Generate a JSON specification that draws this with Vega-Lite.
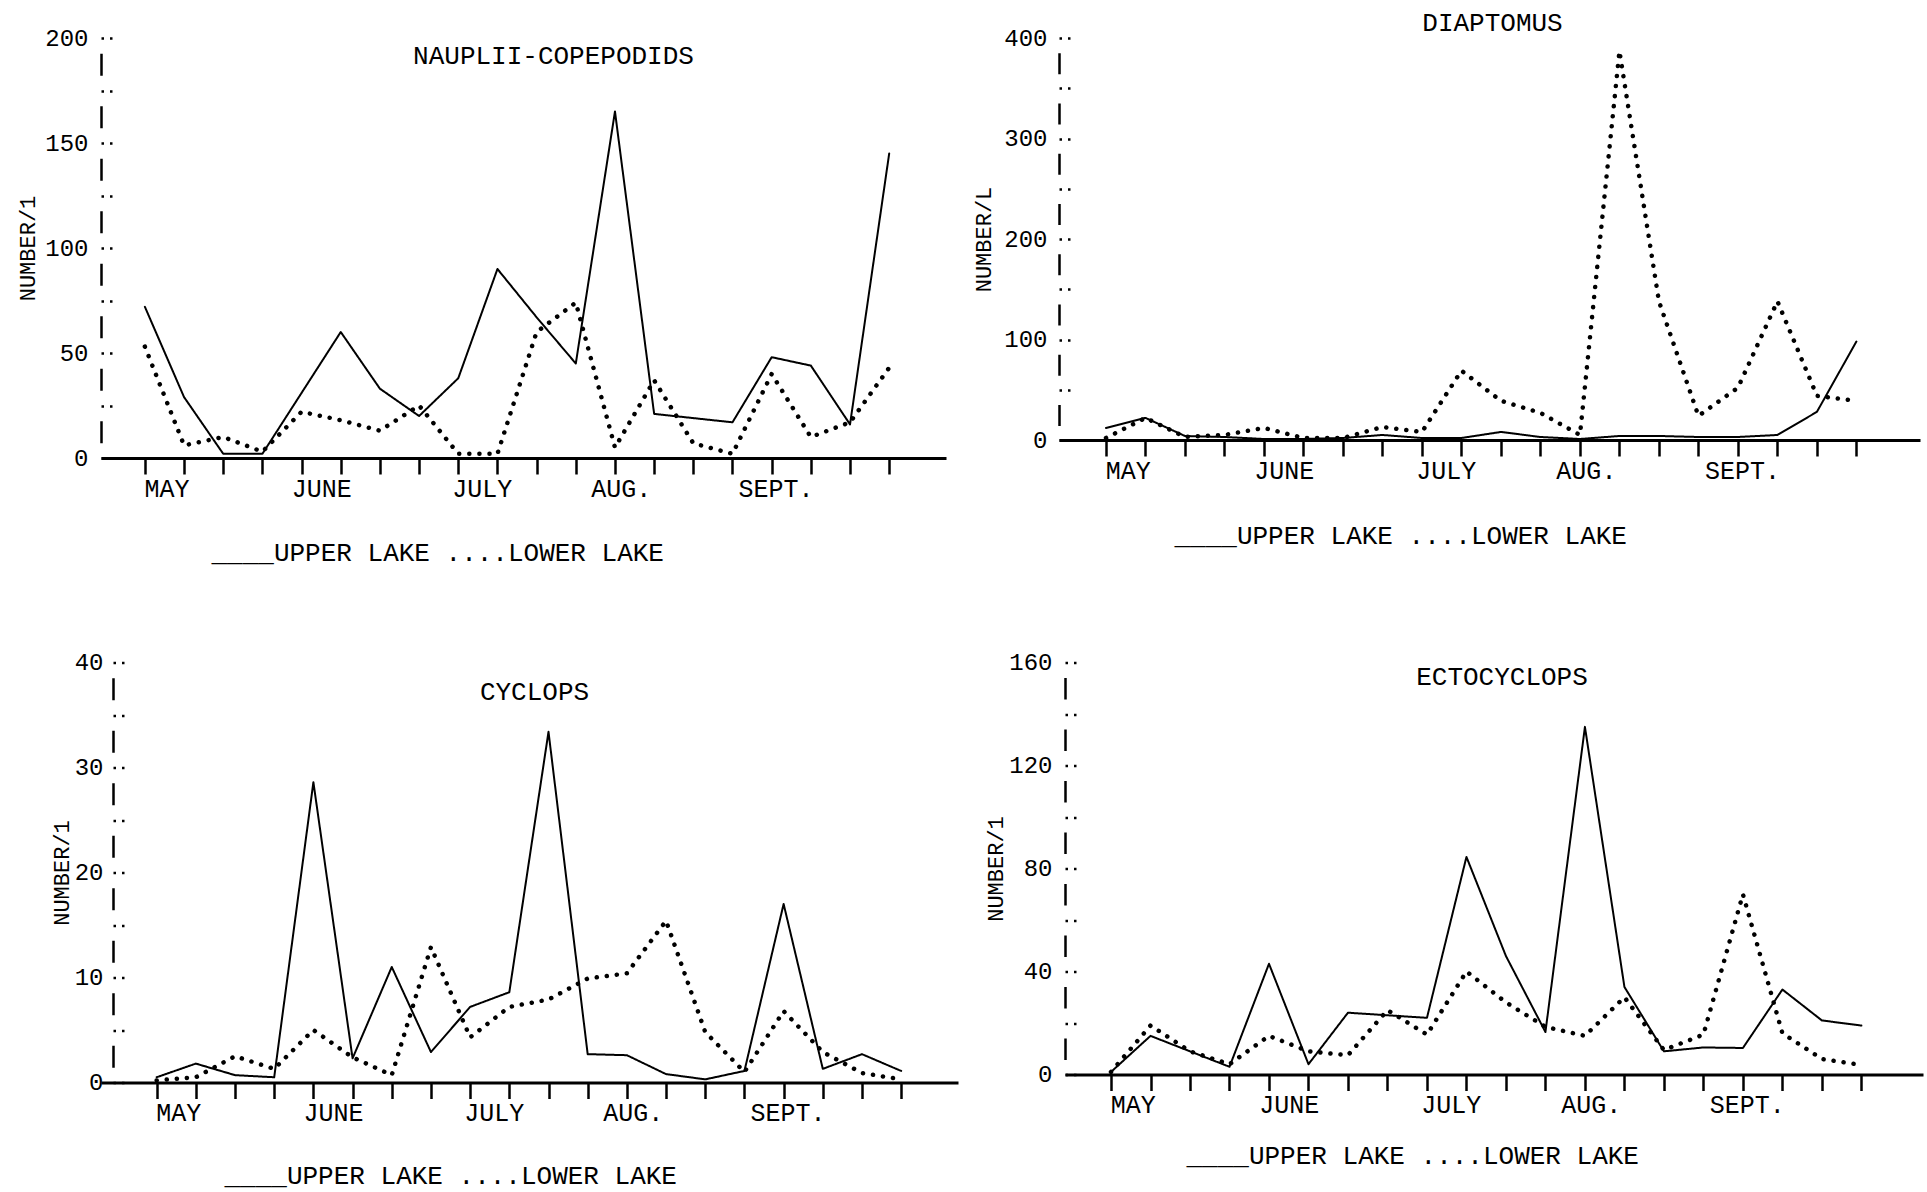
{
  "$schema": "https://vega.github.io/schema/vega-lite/v6.json",
  "background": "white",
  "padding": {"left": 16, "top": 9, "right": 2, "bottom": 2},
  "bounds": "flush",
  "spacing": 624.5,
  "config": {
    "view": {"stroke": null},
    "font": "Liberation Mono",
    "axis": {"labelFont": "Liberation Mono", "titleFont": "Liberation Mono", "labelColor": "black", "titleColor": "black", "domainColor": "black", "tickColor": "black", "grid": false, "titleFontWeight": "normal"},
    "title": {"font": "Liberation Mono", "fontWeight": "normal", "fontSize": 26, "color": "black", "anchor": "middle", "frame": "group"}
  },
  "datasets": {
    "nauplii": [
      {"week": 0, "lake": "UPPER LAKE", "value": 72}, {"week": 1, "lake": "UPPER LAKE", "value": 29}, {"week": 2, "lake": "UPPER LAKE", "value": 2}, {"week": 3, "lake": "UPPER LAKE", "value": 2}, {"week": 4, "lake": "UPPER LAKE", "value": 31}, {"week": 5, "lake": "UPPER LAKE", "value": 60}, {"week": 6, "lake": "UPPER LAKE", "value": 33}, {"week": 7, "lake": "UPPER LAKE", "value": 20}, {"week": 8, "lake": "UPPER LAKE", "value": 38}, {"week": 9, "lake": "UPPER LAKE", "value": 90}, {"week": 10, "lake": "UPPER LAKE", "value": 67}, {"week": 11, "lake": "UPPER LAKE", "value": 45}, {"week": 12, "lake": "UPPER LAKE", "value": 165}, {"week": 13, "lake": "UPPER LAKE", "value": 21}, {"week": 14, "lake": "UPPER LAKE", "value": 19}, {"week": 15, "lake": "UPPER LAKE", "value": 17}, {"week": 16, "lake": "UPPER LAKE", "value": 48}, {"week": 17, "lake": "UPPER LAKE", "value": 44}, {"week": 18, "lake": "UPPER LAKE", "value": 16}, {"week": 19, "lake": "UPPER LAKE", "value": 145},
      {"week": 0, "lake": "LOWER LAKE", "value": 53}, {"week": 1, "lake": "LOWER LAKE", "value": 6}, {"week": 2, "lake": "LOWER LAKE", "value": 10}, {"week": 3, "lake": "LOWER LAKE", "value": 3}, {"week": 4, "lake": "LOWER LAKE", "value": 22}, {"week": 5, "lake": "LOWER LAKE", "value": 18}, {"week": 6, "lake": "LOWER LAKE", "value": 13}, {"week": 7, "lake": "LOWER LAKE", "value": 25}, {"week": 8, "lake": "LOWER LAKE", "value": 2}, {"week": 9, "lake": "LOWER LAKE", "value": 2}, {"week": 10, "lake": "LOWER LAKE", "value": 60}, {"week": 11, "lake": "LOWER LAKE", "value": 74}, {"week": 12, "lake": "LOWER LAKE", "value": 5}, {"week": 13, "lake": "LOWER LAKE", "value": 37}, {"week": 14, "lake": "LOWER LAKE", "value": 7}, {"week": 15, "lake": "LOWER LAKE", "value": 2}, {"week": 16, "lake": "LOWER LAKE", "value": 40}, {"week": 17, "lake": "LOWER LAKE", "value": 10}, {"week": 18, "lake": "LOWER LAKE", "value": 17}, {"week": 19, "lake": "LOWER LAKE", "value": 43}
    ],
    "diaptomus": [
      {"week": 0, "lake": "UPPER LAKE", "value": 12}, {"week": 1, "lake": "UPPER LAKE", "value": 22}, {"week": 2, "lake": "UPPER LAKE", "value": 4}, {"week": 3, "lake": "UPPER LAKE", "value": 3}, {"week": 4, "lake": "UPPER LAKE", "value": 1}, {"week": 5, "lake": "UPPER LAKE", "value": 1}, {"week": 6, "lake": "UPPER LAKE", "value": 2}, {"week": 7, "lake": "UPPER LAKE", "value": 5}, {"week": 8, "lake": "UPPER LAKE", "value": 2}, {"week": 9, "lake": "UPPER LAKE", "value": 2}, {"week": 10, "lake": "UPPER LAKE", "value": 8}, {"week": 11, "lake": "UPPER LAKE", "value": 3}, {"week": 12, "lake": "UPPER LAKE", "value": 1}, {"week": 13, "lake": "UPPER LAKE", "value": 4}, {"week": 14, "lake": "UPPER LAKE", "value": 4}, {"week": 15, "lake": "UPPER LAKE", "value": 3}, {"week": 16, "lake": "UPPER LAKE", "value": 3}, {"week": 17, "lake": "UPPER LAKE", "value": 5}, {"week": 18, "lake": "UPPER LAKE", "value": 28}, {"week": 19, "lake": "UPPER LAKE", "value": 98},
      {"week": 0, "lake": "LOWER LAKE", "value": 2}, {"week": 1, "lake": "LOWER LAKE", "value": 22}, {"week": 2, "lake": "LOWER LAKE", "value": 3}, {"week": 3, "lake": "LOWER LAKE", "value": 5}, {"week": 4, "lake": "LOWER LAKE", "value": 12}, {"week": 5, "lake": "LOWER LAKE", "value": 2}, {"week": 6, "lake": "LOWER LAKE", "value": 2}, {"week": 7, "lake": "LOWER LAKE", "value": 13}, {"week": 8, "lake": "LOWER LAKE", "value": 8}, {"week": 9, "lake": "LOWER LAKE", "value": 69}, {"week": 10, "lake": "LOWER LAKE", "value": 39}, {"week": 11, "lake": "LOWER LAKE", "value": 27}, {"week": 12, "lake": "LOWER LAKE", "value": 5}, {"week": 13, "lake": "LOWER LAKE", "value": 387}, {"week": 14, "lake": "LOWER LAKE", "value": 138}, {"week": 15, "lake": "LOWER LAKE", "value": 24}, {"week": 16, "lake": "LOWER LAKE", "value": 52}, {"week": 17, "lake": "LOWER LAKE", "value": 138}, {"week": 18, "lake": "LOWER LAKE", "value": 44}, {"week": 19, "lake": "LOWER LAKE", "value": 39}
    ],
    "cyclops": [
      {"week": 0, "lake": "UPPER LAKE", "value": 0.5}, {"week": 1, "lake": "UPPER LAKE", "value": 1.8}, {"week": 2, "lake": "UPPER LAKE", "value": 0.7}, {"week": 3, "lake": "UPPER LAKE", "value": 0.5}, {"week": 4, "lake": "UPPER LAKE", "value": 28.6}, {"week": 5, "lake": "UPPER LAKE", "value": 2.3}, {"week": 6, "lake": "UPPER LAKE", "value": 11.0}, {"week": 7, "lake": "UPPER LAKE", "value": 2.9}, {"week": 8, "lake": "UPPER LAKE", "value": 7.2}, {"week": 9, "lake": "UPPER LAKE", "value": 8.6}, {"week": 10, "lake": "UPPER LAKE", "value": 33.4}, {"week": 11, "lake": "UPPER LAKE", "value": 2.7}, {"week": 12, "lake": "UPPER LAKE", "value": 2.6}, {"week": 13, "lake": "UPPER LAKE", "value": 0.8}, {"week": 14, "lake": "UPPER LAKE", "value": 0.3}, {"week": 15, "lake": "UPPER LAKE", "value": 1.1}, {"week": 16, "lake": "UPPER LAKE", "value": 17.0}, {"week": 17, "lake": "UPPER LAKE", "value": 1.3}, {"week": 18, "lake": "UPPER LAKE", "value": 2.7}, {"week": 19, "lake": "UPPER LAKE", "value": 1.1},
      {"week": 0, "lake": "LOWER LAKE", "value": 0.2}, {"week": 1, "lake": "LOWER LAKE", "value": 0.5}, {"week": 2, "lake": "LOWER LAKE", "value": 2.5}, {"week": 3, "lake": "LOWER LAKE", "value": 1.3}, {"week": 4, "lake": "LOWER LAKE", "value": 5.0}, {"week": 5, "lake": "LOWER LAKE", "value": 2.4}, {"week": 6, "lake": "LOWER LAKE", "value": 0.7}, {"week": 7, "lake": "LOWER LAKE", "value": 12.9}, {"week": 8, "lake": "LOWER LAKE", "value": 4.3}, {"week": 9, "lake": "LOWER LAKE", "value": 7.2}, {"week": 10, "lake": "LOWER LAKE", "value": 7.9}, {"week": 11, "lake": "LOWER LAKE", "value": 9.9}, {"week": 12, "lake": "LOWER LAKE", "value": 10.4}, {"week": 13, "lake": "LOWER LAKE", "value": 15.4}, {"week": 14, "lake": "LOWER LAKE", "value": 4.8}, {"week": 15, "lake": "LOWER LAKE", "value": 1.0}, {"week": 16, "lake": "LOWER LAKE", "value": 6.8}, {"week": 17, "lake": "LOWER LAKE", "value": 2.9}, {"week": 18, "lake": "LOWER LAKE", "value": 0.9}, {"week": 19, "lake": "LOWER LAKE", "value": 0.3}
    ],
    "ectocyclops": [
      {"week": 0, "lake": "UPPER LAKE", "value": 1}, {"week": 1, "lake": "UPPER LAKE", "value": 15}, {"week": 2, "lake": "UPPER LAKE", "value": 9}, {"week": 3, "lake": "UPPER LAKE", "value": 3}, {"week": 4, "lake": "UPPER LAKE", "value": 43}, {"week": 5, "lake": "UPPER LAKE", "value": 4}, {"week": 6, "lake": "UPPER LAKE", "value": 24}, {"week": 7, "lake": "UPPER LAKE", "value": 23}, {"week": 8, "lake": "UPPER LAKE", "value": 22}, {"week": 9, "lake": "UPPER LAKE", "value": 84.5}, {"week": 10, "lake": "UPPER LAKE", "value": 46}, {"week": 11, "lake": "UPPER LAKE", "value": 16.5}, {"week": 12, "lake": "UPPER LAKE", "value": 135}, {"week": 13, "lake": "UPPER LAKE", "value": 34}, {"week": 14, "lake": "UPPER LAKE", "value": 9}, {"week": 15, "lake": "UPPER LAKE", "value": 10.5}, {"week": 16, "lake": "UPPER LAKE", "value": 10.3}, {"week": 17, "lake": "UPPER LAKE", "value": 33}, {"week": 18, "lake": "UPPER LAKE", "value": 21}, {"week": 19, "lake": "UPPER LAKE", "value": 19},
      {"week": 0, "lake": "LOWER LAKE", "value": 1}, {"week": 1, "lake": "LOWER LAKE", "value": 19}, {"week": 2, "lake": "LOWER LAKE", "value": 9}, {"week": 3, "lake": "LOWER LAKE", "value": 4}, {"week": 4, "lake": "LOWER LAKE", "value": 15}, {"week": 5, "lake": "LOWER LAKE", "value": 9}, {"week": 6, "lake": "LOWER LAKE", "value": 7.5}, {"week": 7, "lake": "LOWER LAKE", "value": 25}, {"week": 8, "lake": "LOWER LAKE", "value": 15.5}, {"week": 9, "lake": "LOWER LAKE", "value": 40}, {"week": 10, "lake": "LOWER LAKE", "value": 28}, {"week": 11, "lake": "LOWER LAKE", "value": 18.5}, {"week": 12, "lake": "LOWER LAKE", "value": 15}, {"week": 13, "lake": "LOWER LAKE", "value": 30}, {"week": 14, "lake": "LOWER LAKE", "value": 9.5}, {"week": 15, "lake": "LOWER LAKE", "value": 15.5}, {"week": 16, "lake": "LOWER LAKE", "value": 70}, {"week": 17, "lake": "LOWER LAKE", "value": 16}, {"week": 18, "lake": "LOWER LAKE", "value": 6}, {"week": 19, "lake": "LOWER LAKE", "value": 3.7}
    ]
  },
  "vconcat": [
    {
      "bounds": "flush",
      "spacing": 113,
      "hconcat": [
        {
          "width": 845, "height": 420,
          "data": {"name": "nauplii"},
          "title": {"text": "NAUPLII-COPEPODIDS", "offset": -42.5, "dx": 30},
          "mark": {"type": "line", "color": "black", "strokeCap": "round", "strokeJoin": "round"},
          "encoding": {
            "x": {"field": "week", "type": "quantitative", "scale": {"domain": [-1.12, 20.45], "nice": false, "zero": false},
              "axis": {"title": "____UPPER LAKE  ....LOWER LAKE", "values": [0,1,2,3,4,5,6,7,8,9,10,11,12,13,14,15,16,17,18,19,0.55,4.5,8.6,12.15,16.1],
                "labelExpr": "datum.value == 0.55 ? 'MAY' : datum.value == 4.5 ? 'JUNE' : datum.value == 8.6 ? 'JULY' : datum.value == 12.15 ? 'AUG.' : datum.value == 16.1 ? 'SEPT.' : ''",
                "tickOpacity": {"condition": {"test": "datum.value % 1 != 0", "value": 0}, "value": 1},
                "tickSize": 16, "tickWidth": 2.5, "domainWidth": 3, "labelFontSize": 25, "labelPadding": 2, "labelFlush": false, "labelOverlap": false,
                "titleFontSize": 26, "titleX": 110, "titleY": 94.5, "titleAlign": "left", "titleBaseline": "middle"}},
            "y": {"field": "value", "type": "quantitative", "scale": {"domain": [0, 200], "nice": false},
              "axis": {"title": "NUMBER/1", "values": [0,25,50,75,100,125,150,175,200], "labelExpr": "datum.value % 50 == 0 ? datum.label : ''",
                "domainDash": [22, 30.5], "domainDashOffset": 37.25, "domainWidth": 2.5,
                "tickSize": -11, "tickDash": [2.5, 6, 2.5, 100], "tickWidth": 2.5,
                "labelFontSize": 24, "labelPadding": 24, "labelOverlap": false, "labelFlush": false,
                "titleFontSize": 22, "titleX": -74, "titleY": 210, "titleBaseline": "middle", "titleAlign": "center"}},
            "strokeDash": {"field": "lake", "type": "nominal", "scale": {"domain": ["UPPER LAKE", "LOWER LAKE"], "range": [[1, 0], [0.1, 10]]}, "legend": null},
            "strokeWidth": {"field": "lake", "type": "ordinal", "scale": {"domain": ["UPPER LAKE", "LOWER LAKE"], "range": [2, 4.5]}, "legend": null}
          }
        },
        {
          "width": 861, "height": 402,
          "data": {"name": "diaptomus"},
          "title": {"text": "DIAPTOMUS", "offset": -9.5, "dx": 3},
          "mark": {"type": "line", "color": "black", "strokeCap": "round", "strokeJoin": "round"},
          "encoding": {
            "x": {"field": "week", "type": "quantitative", "scale": {"domain": [-1.19, 20.61], "nice": false, "zero": false},
              "axis": {"title": "____UPPER LAKE  ....LOWER LAKE", "values": [0,1,2,3,4,5,6,7,8,9,10,11,12,13,14,15,16,17,18,19,0.55,4.5,8.6,12.15,16.1],
                "labelExpr": "datum.value == 0.55 ? 'MAY' : datum.value == 4.5 ? 'JUNE' : datum.value == 8.6 ? 'JULY' : datum.value == 12.15 ? 'AUG.' : datum.value == 16.1 ? 'SEPT.' : ''",
                "tickOpacity": {"condition": {"test": "datum.value % 1 != 0", "value": 0}, "value": 1},
                "tickSize": 16, "tickWidth": 2.5, "domainWidth": 3, "labelFontSize": 25, "labelPadding": 2, "labelFlush": false, "labelOverlap": false,
                "titleFontSize": 26, "titleX": 115, "titleY": 95, "titleAlign": "left", "titleBaseline": "middle"}},
            "y": {"field": "value", "type": "quantitative", "scale": {"domain": [0, 400], "nice": false},
              "axis": {"title": "NUMBER/L", "values": [0,50,100,150,200,250,300,350,400], "labelExpr": "datum.value % 100 == 0 ? datum.label : ''",
                "domainDash": [21, 29.25], "domainDashOffset": 35.7, "domainWidth": 2.5,
                "tickSize": -11, "tickDash": [2.5, 6, 2.5, 100], "tickWidth": 2.5,
                "labelFontSize": 24, "labelPadding": 23, "labelOverlap": false, "labelFlush": false,
                "titleFontSize": 22, "titleX": -76, "titleY": 201, "titleBaseline": "middle", "titleAlign": "center"}},
            "strokeDash": {"field": "lake", "type": "nominal", "scale": {"domain": ["UPPER LAKE", "LOWER LAKE"], "range": [[1, 0], [0.1, 10]]}, "legend": null},
            "strokeWidth": {"field": "lake", "type": "ordinal", "scale": {"domain": ["UPPER LAKE", "LOWER LAKE"], "range": [2, 4.5]}, "legend": null}
          }
        }
      ]
    },
    {
      "bounds": "flush",
      "spacing": 107,
      "hconcat": [
        {
          "width": 857, "height": 420,
          "data": {"name": "cyclops"},
          "title": {"text": "CYCLOPS", "offset": -54, "dx": 5},
          "mark": {"type": "line", "color": "black", "strokeCap": "round", "strokeJoin": "round"},
          "encoding": {
            "x": {"field": "week", "type": "quantitative", "scale": {"domain": [-1.42, 20.45], "nice": false, "zero": false},
              "axis": {"title": "____UPPER LAKE  ....LOWER LAKE", "values": [0,1,2,3,4,5,6,7,8,9,10,11,12,13,14,15,16,17,18,19,0.55,4.5,8.6,12.15,16.1],
                "labelExpr": "datum.value == 0.55 ? 'MAY' : datum.value == 4.5 ? 'JUNE' : datum.value == 8.6 ? 'JULY' : datum.value == 12.15 ? 'AUG.' : datum.value == 16.1 ? 'SEPT.' : ''",
                "tickOpacity": {"condition": {"test": "datum.value % 1 != 0", "value": 0}, "value": 1},
                "tickSize": 16, "tickWidth": 2.5, "domainWidth": 3, "labelFontSize": 25, "labelPadding": 2, "labelFlush": false, "labelOverlap": false,
                "titleFontSize": 26, "titleX": 123, "titleY": 93, "titleAlign": "left", "titleBaseline": "middle"}},
            "y": {"field": "value", "type": "quantitative", "scale": {"domain": [0, 40], "nice": false},
              "axis": {"title": "NUMBER/1", "values": [0,5,10,15,20,25,30,35,40], "labelExpr": "datum.value % 10 == 0 ? datum.label : ''",
                "offset": -12,
                "domainDash": [22, 30.5], "domainDashOffset": 37.25, "domainWidth": 2.5,
                "tickSize": -11, "tickDash": [2.5, 6, 2.5, 100], "tickWidth": 2.5,
                "labelFontSize": 24, "labelPadding": 21, "labelOverlap": false, "labelFlush": false,
                "titleFontSize": 22, "titleX": -52, "titleY": 210, "titleBaseline": "middle", "titleAlign": "center"}},
            "strokeDash": {"field": "lake", "type": "nominal", "scale": {"domain": ["UPPER LAKE", "LOWER LAKE"], "range": [[1, 0], [0.1, 10]]}, "legend": null},
            "strokeWidth": {"field": "lake", "type": "ordinal", "scale": {"domain": ["UPPER LAKE", "LOWER LAKE"], "range": [2, 4.5]}, "legend": null}
          }
        },
        {
          "width": 858, "height": 412,
          "data": {"name": "ectocyclops"},
          "title": {"text": "ECTOCYCLOPS", "offset": -39, "dx": 8},
          "mark": {"type": "line", "color": "black", "strokeCap": "round", "strokeJoin": "round"},
          "encoding": {
            "x": {"field": "week", "type": "quantitative", "scale": {"domain": [-1.165, 20.56], "nice": false, "zero": false},
              "axis": {"title": "____UPPER LAKE  ....LOWER LAKE", "values": [0,1,2,3,4,5,6,7,8,9,10,11,12,13,14,15,16,17,18,19,0.55,4.5,8.6,12.15,16.1],
                "labelExpr": "datum.value == 0.55 ? 'MAY' : datum.value == 4.5 ? 'JUNE' : datum.value == 8.6 ? 'JULY' : datum.value == 12.15 ? 'AUG.' : datum.value == 16.1 ? 'SEPT.' : ''",
                "tickOpacity": {"condition": {"test": "datum.value % 1 != 0", "value": 0}, "value": 1},
                "tickSize": 16, "tickWidth": 2.5, "domainWidth": 3, "labelFontSize": 25, "labelPadding": 2, "labelFlush": false, "labelOverlap": false,
                "titleFontSize": 26, "titleX": 121, "titleY": 81, "titleAlign": "left", "titleBaseline": "middle"}},
            "y": {"field": "value", "type": "quantitative", "scale": {"domain": [0, 160], "nice": false},
              "axis": {"title": "NUMBER/1", "values": [0,20,40,60,80,100,120,140,160], "labelExpr": "datum.value % 40 == 0 ? datum.label : ''",
                "domainDash": [21.6, 29.9], "domainDashOffset": 36.6, "domainWidth": 2.5,
                "tickSize": -11, "tickDash": [2.5, 6, 2.5, 100], "tickWidth": 2.5,
                "labelFontSize": 24, "labelPadding": 24, "labelOverlap": false, "labelFlush": false,
                "titleFontSize": 22, "titleX": -70, "titleY": 206, "titleBaseline": "middle", "titleAlign": "center"}},
            "strokeDash": {"field": "lake", "type": "nominal", "scale": {"domain": ["UPPER LAKE", "LOWER LAKE"], "range": [[1, 0], [0.1, 10]]}, "legend": null},
            "strokeWidth": {"field": "lake", "type": "ordinal", "scale": {"domain": ["UPPER LAKE", "LOWER LAKE"], "range": [2, 4.5]}, "legend": null}
          }
        }
      ]
    }
  ]
}
